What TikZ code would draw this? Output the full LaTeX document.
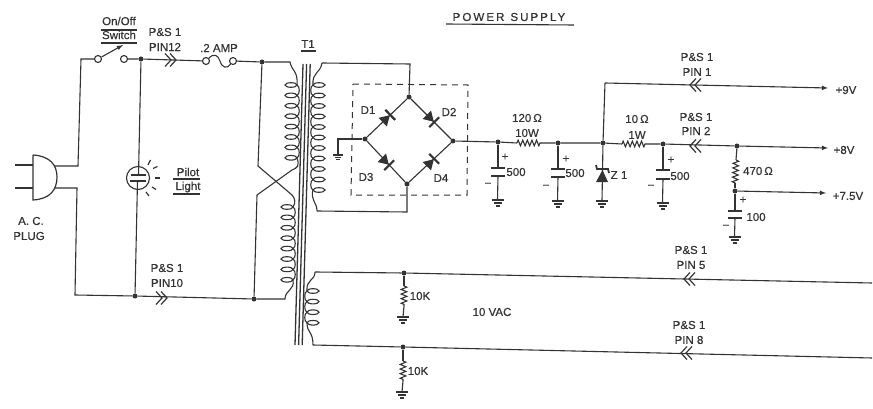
\documentclass[tikz,border=0pt]{standalone}
\usepackage{fontspec}
\setmainfont{Liberation Sans}[FakeBold=0.5]
\usetikzlibrary{arrows,decorations.pathmorphing}
\definecolor{inkgray}{HTML}{333333}
\tikzset{>=latex}
\tikzset{
    wire/.style={line width=1.1pt},
    lbl/.style={inner sep=0pt, font=\fontsize{11.5}{13}\selectfont},
    dot/.style={circle, fill=inkgray, inner sep=0pt, minimum size=5pt},
    term/.style={circle, draw=inkgray, fill=white, line width=1.1pt, inner sep=0pt, minimum size=7pt},
    reszig/.style={line width=1.1pt, decorate, decoration={zigzag, segment length=4.6pt, amplitude=2.8pt}},
    chevrons/.pic={
        \draw[line width=1.2pt] (-6,-6.5) -- (0,0) -- (-6,6.5);
        \draw[line width=1.2pt] (-1,-6.5) -- (5,0) -- (-1,6.5);
    },
    capplate/.pic={\draw[line width=1.6pt] (-7,0) -- (7,0);},
    gndsym/.pic={
        \draw[line width=1.3pt] (-6,0) -- (6,0);
        \draw[line width=1.3pt] (-4,3) -- (4,3);
        \draw[line width=1.3pt] (-2,6) -- (2,6);
    },
    diodesym/.pic={
        \fill (-6,-6) -- (4,0) -- (-6,6) -- cycle;
        \draw[line width=2.2pt] (4.5,-7) -- (4.5,7);
    },
}
\newcommand{\windings}[5]{%
    \foreach \n in {1,...,#4} {
        \pgfmathsetmacro{\yy}{#2+(\n-1)*#3}
        \pgfmathsetmacro{\xe}{#1+#5*6}
        \pgfmathsetmacro{\xc}{#1+#5*9}
        \draw[wire] (#1,\yy) ellipse (6 and 2.3);
        \ifnum\n<#4
            \draw[wire] (\xe,\yy) .. controls (\xc,\yy+1) and (\xc,\yy+#3-1) .. (\xe,\yy+#3);
        \fi
    }
}

\begin{document}
\begin{tikzpicture}[x=1pt, y=-1pt, color=inkgray]
        \useasboundingbox (0,0) rectangle (873,409);

        % titles
        \node[lbl] (title) at (509,17) {\addfontfeature{LetterSpace=18}POWER\hspace{6pt}SUPPLY};
        \draw[wire] (446,24) -- (574,25);
        \node[lbl] (onoff) at (119,21) {On/Off};
        \draw[line width=1.3pt] (101,30) -- (137,30);
        \node[lbl] (switch) at (119,35) {Switch};
        \draw[line width=1.3pt] (101,43) -- (137,43);
        \node[lbl] (pilot) at (188,172) {Pilot};
        \draw[line width=1.3pt] (173,179) -- (200,179);
        \node[lbl] (light) at (188,187) {Light};
        \draw[line width=1.3pt] (173,194) -- (200,194);
        \node[lbl] (acA) at (31,221) {A. C.};
        \node[lbl] (acB) at (29,236) {PLUG};
        \node[lbl] (ampfuse) at (219,48) {.2 AMP};
        \node[lbl] (tname) at (308,44) {T1};
        \draw[line width=1.3pt] (301,51) -- (316,51);
        \node[lbl] (pa) at (165,32) {P\&S 1};
        \node[lbl] (pb) at (165,47) {PIN12};
        \node[lbl] (pc) at (167,268) {P\&S 1};
        \node[lbl] (pd) at (167,283) {PIN10};
        \node[lbl] (pe) at (697,57) {P\&S 1};
        \node[lbl] (pf) at (697,72) {PIN 1};
        \node[lbl] (pg) at (696,117) {P\&S 1};
        \node[lbl] (ph) at (696,131) {PIN 2};
        \node[lbl] (pi) at (691,250) {P\&S 1};
        \node[lbl] (pj) at (691,265) {PIN 5};
        \node[lbl] (pk) at (689,325) {P\&S 1};
        \node[lbl] (pl) at (689,340) {PIN 8};
        \node[lbl] (vac) at (492,312) {10 VAC};
        \node[lbl] (nine) at (846,90) {+9V};
        \node[lbl] (eight) at (844,150) {+8V};
        \node[lbl] (seven) at (848,196) {+7.5V};
        \node[lbl] (da) at (368,110) {D1};
        \node[lbl] (db) at (449,112) {D2};
        \node[lbl] (dc) at (366,177) {D3};
        \node[lbl] (dd) at (441,178) {D4};
        \node[lbl] (ra) at (527,118) {120$\,$Ω};
        \node[lbl] (rb) at (527,133) {10W};
        \node[lbl] (rc) at (637,119) {10$\,$Ω};
        \node[lbl] (rd) at (637,135) {1W};
        \node[lbl] (re) at (758,171) {470$\,$Ω};
        \node[lbl] (rf) at (420,296) {10K};
        \node[lbl] (rg) at (418,371) {10K};
        \node[lbl] (ca) at (516,172) {500};
        \node[lbl] (cb) at (575,173) {500};
        \node[lbl] (cc) at (680,176) {500};
        \node[lbl] (cd) at (756,217) {100};
        \node[lbl] (za) at (619,175) {Z 1};
        \node[lbl] (sa) at (505,157) {+};
        \node[lbl] (sb) at (566,159) {+};
        \node[lbl] (sc) at (671,160) {+};
        \node[lbl] (sd) at (743,200) {+};
        \node[lbl] (ma) at (488,185) {−};
        \node[lbl] (mb) at (546,187) {−};
        \node[lbl] (mc) at (651,187) {−};
        \node[lbl] (md) at (726,227) {−};

        % plug
        \draw[line width=2.2pt] (15,165) -- (33,165);
        \draw[line width=2.2pt] (15,188) -- (33,188);
        \draw[line width=1.2pt] (33,155) -- (33,200) .. controls (50,199) and (57,190) .. (57,177) .. controls (57,165) and (50,156) .. (33,155);
        \coordinate (plugA) at (54,166);
        \coordinate (plugB) at (54,188);
        \coordinate (cornA) at (78,166);
        \coordinate (cornB) at (77,188);
        \coordinate (cornC) at (81,59);
        \coordinate (cornD) at (75,295);

        % switch, fuse, pilot
        \node[term] (swA) at (98,59) {};
        \node[term] (swB) at (124,59) {};
        \coordinate (swTip) at (123,45);
        \node[term] (fuA) at (206,61) {};
        \node[term] (fuB) at (233,61) {};
        \node[dot] (jA) at (141,59) {};
        \node[dot] (jB) at (262,62) {};
        \node[dot] (jC) at (135,296) {};
        \node[dot] (jD) at (254,299) {};
        \node[circle, draw, line width=1.1pt, inner sep=0pt, minimum size=23pt] (lamp) at (138,178) {};
        \coordinate (lampA) at (138.5,175);
        \coordinate (lampB) at (137.5,181);
        \draw[line width=1.4pt] (130.5,175) -- (146,175);
        \draw[line width=1.4pt] (130,181) -- (145.5,181);
        \foreach \xa/\ya/\xb/\yb in {148/165/150.5/160, 153/168.5/157.5/166.5, 155/178/160/178, 152/187/156/189.5, 146/192/149/196}
            \draw[line width=1.2pt] (\xa,\ya) -- (\xb,\yb);

        \draw[wire] (plugA) -- (cornA) -- (cornC) -- (swA);
        \draw[wire] (plugB) -- (cornB) -- (cornD) -- (jC) -- (jD);
        \draw[wire, ->] (swA) -- (swTip);
        \draw[wire] (swB) -- (jA) -- (fuA);
        \draw[wire] (fuB) -- (jB);
        \draw[wire] (fuA) .. controls (214,53) and (218,55) .. (220,61) .. controls (222,68) and (227,69) .. (fuB);
        \draw[wire] (jA) -- (lampA);
        \draw[wire] (lampB) -- (jC);
        \pic at (171,60) {chevrons};
        \pic at (162,298) {chevrons};

        % transformer core and windings
        \foreach \dx in {0,3.6,7.2}
            \draw[line width=1.3pt] (303+\dx,64) -- (295+\dx,345);
        \windings{291}{85}{10.4}{8}{1}
        \windings{287}{207}{10.4}{8}{1}
        \windings{319}{85}{10.5}{11}{-1}
        \windings{313}{291}{10.6}{4}{-1}

        \coordinate (coilA) at (297,85);
        \coordinate (coilB) at (297,158);
        \coordinate (coilC) at (293,207);
        \coordinate (coilD) at (293,280);
        \coordinate (coilE) at (313,85);
        \coordinate (coilF) at (313,190);
        \coordinate (coilG) at (307,291);
        \coordinate (coilH) at (307,323);
        \coordinate (xA) at (292,170);
        \coordinate (xB) at (257,195);
        \coordinate (xC) at (258,166);
        \coordinate (xD) at (292,195);
        \coordinate (topA) at (290,62);
        \coordinate (botA) at (285,299);
        \coordinate (secA) at (322,63);
        \coordinate (secB) at (317,211);
        \coordinate (secC) at (410,64);
        \coordinate (secD) at (407,212);
        \coordinate (lowA) at (315,272);
        \coordinate (lowB) at (313,345);

        \draw[wire] (jB) -- (topA) .. controls (292,72) and (298,70) .. (coilA);
        \draw[wire] (coilB) .. controls (300,166) and (297,168) .. (xA) -- (xB) -- (jD);
        \draw[wire] (jB) -- (xC) -- (xD) .. controls (295,198) and (296,203) .. (coilC);
        \draw[wire] (coilD) .. controls (295,290) and (285,290) .. (botA) -- (jD);
        \draw[wire] (secA) .. controls (320,74) and (312,72) .. (coilE);
        \draw[wire] (coilF) .. controls (310,200) and (317,202) .. (secB);

        % bridge
        \node[dot] (brT) at (409,97) {};
        \node[dot] (brL) at (365,139) {};
        \node[dot] (brR) at (453,141) {};
        \node[dot] (brB) at (407,184) {};
        \draw[line width=1pt, dash pattern=on 6pt off 5pt] (353,84) -- (468,85) -- (467,195) -- (351,195) -- cycle;
        \draw[wire] (secA) -- (secC) -- (brT);
        \draw[wire] (secB) -- (secD) -- (brB);
        \draw[wire] (brL) -- (brT) -- (brR) -- (brB) -- (brL);
        \pic[rotate=44] at (387,118) {diodesym};
        \pic[rotate=-45] at (431,119) {diodesym};
        \pic[rotate=-45] at (386,162) {diodesym};
        \pic[rotate=45] at (431,162) {diodesym};
        \coordinate (tapA) at (338,139);
        \coordinate (tapB) at (338,155);
        \draw[wire] (brL) -- (tapA) -- (tapB);
        \pic[scale=.8] at (tapB) {gndsym};

        % supply line
        \node[dot] (jE) at (498,142) {};
        \node[dot] (jF) at (558,143) {};
        \node[dot] (jG) at (603,143) {};
        \node[dot] (jH) at (663,144) {};
        \node[dot] (jI) at (737,146) {};
        \node[dot] (jJ) at (735,191) {};
        \coordinate (rAa) at (517,143);
        \coordinate (rAb) at (541,143);
        \coordinate (rBa) at (622,144);
        \coordinate (rBb) at (647,144);
        \coordinate (rCa) at (736,160);
        \coordinate (rCb) at (735,183);
        \coordinate (upA) at (605,83);
        \coordinate (outA) at (828,88);
        \coordinate (outB) at (828,148);
        \coordinate (outC) at (826,193);
        \draw[wire] (brR) -- (jE) -- (rAa);
        \draw[reszig] (rAa) -- (rAb);
        \draw[wire] (rAb) -- (jF) -- (jG) -- (rBa);
        \draw[reszig] (rBa) -- (rBb);
        \draw[wire] (rBb) -- (jH) -- (jI);
        \draw[wire, ->] (jI) -- (outB);
        \draw[wire] (jG) -- (upA);
        \draw[wire, ->] (upA) -- (outA);
        \draw[wire] (jI) -- (rCa);
        \draw[reszig] (rCa) -- (rCb);
        \draw[wire] (rCb) -- (jJ);
        \draw[wire, ->] (jJ) -- (outC);
        \pic[rotate=180] at (695,85) {chevrons};
        \pic[rotate=180] at (695,146) {chevrons};

        % capacitors
        \foreach \nm/\jn/\xp/\ya/\yb/\yg in {capA/jE/498/168/176/200, capB/jF/558/169/177/201, capC/jH/663/170/179/203, capD/jJ/735/211/218/237} {
            \coordinate (\nm t) at (\xp,\ya);
            \coordinate (\nm b) at (\xp,\yb);
            \coordinate (\nm g) at (\xp-.5,\yg);
            \draw[wire] (\jn) -- (\nm t);
            \draw[wire] (\nm b) -- (\nm g);
            \pic at (\nm t) {capplate};
            \pic at (\nm b) {capplate};
            \pic at (\nm g) {gndsym};
        }

        % zener
        \coordinate (zenG) at (602,201);
        \draw[wire] (jG) -- (zenG);
        \pic at (zenG) {gndsym};
        \fill (596,182) -- (608,182) -- (602.5,170) -- cycle;
        \draw[line width=1.8pt] (596,165) -- (597,169) -- (608,169) -- (609,173);

        % ac windings
        \node[dot] (jK) at (404,273) {};
        \node[dot] (jL) at (403,347) {};
        \coordinate (endA) at (872,283);
        \coordinate (endB) at (872,358);
        \coordinate (rDa) at (404,286);
        \coordinate (rDb) at (404,306);
        \coordinate (rEa) at (403,361);
        \coordinate (rEb) at (403,381);
        \coordinate (gndA) at (403,317);
        \coordinate (gndB) at (402,392);
        \draw[wire] (lowA) .. controls (315,281) and (306,279) .. (coilG);
        \draw[wire] (coilH) .. controls (307,333) and (313,331) .. (lowB);
        \draw[wire] (lowA) -- (jK) -- (endA);
        \draw[wire] (lowB) -- (jL) -- (endB);
        \pic[rotate=180] at (689,279) {chevrons};
        \pic[rotate=180] at (686,353) {chevrons};
        \draw[wire] (jK) -- (rDa);
        \draw[reszig] (rDa) -- (rDb);
        \draw[wire] (rDb) -- (gndA);
        \draw[wire] (jL) -- (rEa);
        \draw[reszig] (rEa) -- (rEb);
        \draw[wire] (rEb) -- (gndB);
        \pic at (gndA) {gndsym};
        \pic at (gndB) {gndsym};
\end{tikzpicture}
\end{document}
